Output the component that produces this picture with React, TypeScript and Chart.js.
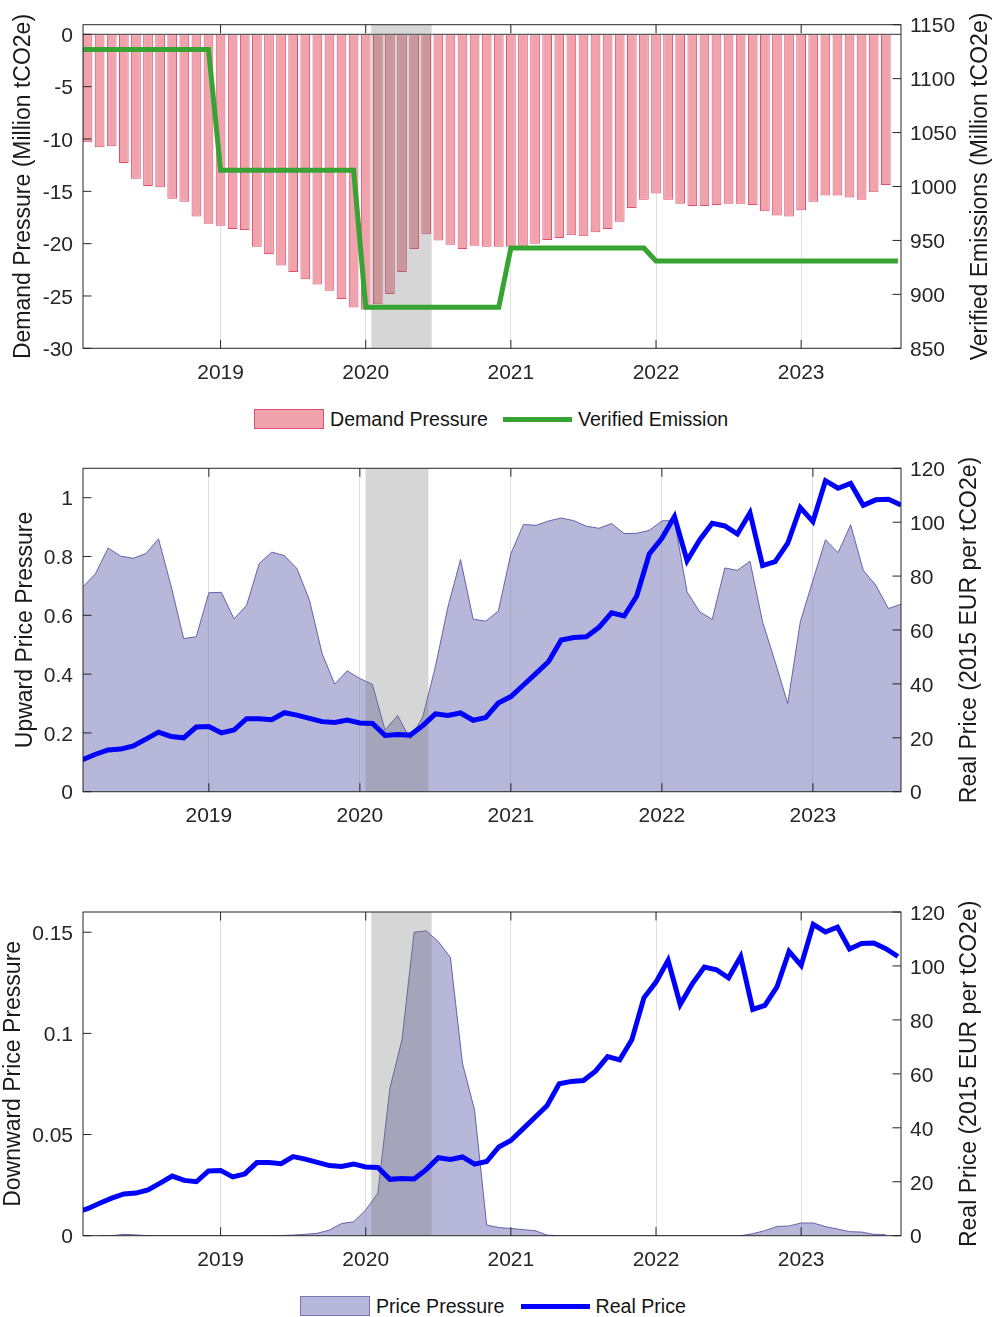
import React, { useEffect, useRef } from 'react';
import { Chart, registerables } from 'chart.js';

Chart.register(...registerables);

// ---------------- data ----------------
const yearTicks = [2019, 2020, 2021, 2022, 2023];

// Demand pressure (Million tCO2e), monthly from 2018-02 to 2023-08
const demandStart = '2018-02';
const demandPressure = [
  -10.3, -10.8, -10.7, -12.3, -13.8, -14.5, -14.6, -15.7, -16.0, -17.4, -18.1,
  -18.3, -18.6, -18.7, -20.3, -21.0, -22.1, -22.7, -23.4, -23.9, -24.5, -25.3, -26.1,
  -26.3, -25.8, -24.8, -22.7, -20.5, -19.1, -19.7, -20.1, -20.5, -20.2, -20.3, -20.3,
  -20.3, -20.2, -20.0, -19.65, -19.45, -19.2, -19.3, -18.9, -18.6, -17.9, -16.6, -15.8,
  -15.2, -15.8, -16.2, -16.4, -16.4, -16.3, -16.2, -16.2, -16.3, -16.9, -17.3, -17.4,
  -16.8, -16.0, -15.4, -15.4, -15.6, -15.8, -15.1, -14.4,
];

// Verified emissions (Million tCO2e), one level per year, drawn monthly 2018-01 .. 2023-09
const emissionYears = [2018, 2019, 2020, 2021, 2022, 2023];
const verifiedEmissions = [1127, 1015, 888, 943, 931, 931];
const emissionStart = '2018-01';
const emissionEnd = '2023-09';

// Real price (2015 EUR per tCO2e), monthly from 2018-01 to 2023-09
const priceStart = '2018-01';
const realPrice = [
  8.6, 10.0, 12.0, 13.9, 15.5, 15.8, 17.0, 19.5, 22.1, 20.5, 20.0, 24.0,
  24.2, 21.8, 22.9, 27.1, 27.1, 26.7, 29.3, 28.4, 27.2, 26.0, 25.7, 26.6,
  25.5, 25.3, 20.9, 21.2, 21.0, 24.5, 28.9, 28.3, 29.2, 26.5, 27.5, 32.9,
  35.3, 39.6, 43.9, 48.3, 56.3, 57.2, 57.5, 61.0, 66.4, 65.2, 72.6, 88.2,
  94.0, 102.1, 85.7, 93.4, 99.6, 98.6, 95.6, 103.5, 83.9, 85.4, 92.2, 105.4,
  100.2, 115.4, 112.6, 114.4, 106.3, 108.3, 108.5, 106.4, 103.5,
];

// Price pressures, monthly from 2018-03 to 2023-08
const pressureStart = '2018-03';
const upwardPressure = [
  0.697, 0.742, 0.829, 0.801, 0.794, 0.81, 0.86, 0.70, 0.521, 0.527,
  0.677, 0.678, 0.588, 0.634, 0.776, 0.815, 0.803, 0.759, 0.651, 0.47, 0.366, 0.411,
  0.385, 0.365, 0.21, 0.259, 0.179, 0.255, 0.425, 0.629, 0.79, 0.587, 0.58, 0.614,
  0.81, 0.909, 0.906, 0.921, 0.931, 0.922, 0.903, 0.896, 0.912, 0.878, 0.879, 0.889,
  0.921, 0.923, 0.68, 0.612, 0.586, 0.761, 0.753, 0.784, 0.578, 0.442, 0.3, 0.578,
  0.719, 0.857, 0.813, 0.908, 0.753, 0.702, 0.623, 0.638,
];
const downwardPressure = [
  0, 0, 0.0007, 0.0004, 0, 0, 0, 0, 0, 0,
  0, 0, 0, 0, 0, 0.0001, 0.0003, 0.0007, 0.0012, 0.0028, 0.006, 0.0069,
  0.0127, 0.021, 0.073, 0.097, 0.15, 0.1507, 0.1454, 0.1375, 0.0852, 0.062, 0.0053, 0.004,
  0.0036, 0.003, 0.0025, 0.0003, 0, 0, 0, 0, 0, 0, 0, 0,
  0, 0, 0, 0, 0, 0, 0, 0, 0.001, 0.0025, 0.0046, 0.0048,
  0.0063, 0.0063, 0.0045, 0.0033, 0.002, 0.0018, 0.0007, 0.0005,
];

// COVID window (fractional years: 2020-01-15 .. 2020-06-15)
const shadeWindow = [2020.038, 2020.454];

const demandTicks = [-30, -25, -20, -15, -10, -5, 0];
const emissionTicks = [850, 900, 950, 1000, 1050, 1100, 1150];
const upwardTicks = [0, 0.2, 0.4, 0.6, 0.8, 1];
const downwardTicks = [0, 0.05, 0.1, 0.15];
const priceTicks = [0, 20, 40, 60, 80, 100, 120];

// ---------------- styles ----------------
const FONT = '"Liberation Sans", Arial, Helvetica, sans-serif';
const TEXT = 'rgb(38,38,38)';
const BAR_FILL = '#F0A2AD';
const BAR_EDGE = '#E0506C';
const GREEN = '#36A332';
const BLUE = '#0000FF';
const AREA_FILL = 'rgba(112,112,180,0.5)';
const AREA_EDGE = 'rgba(80,80,160,0.85)';
const SHADE = 'rgba(120,120,120,0.3)';

// ---------------- helpers ----------------
function monthX(start: string, i: number): number {
  const [y, m] = start.split('-').map(Number);
  const t = y * 12 + (m - 1) + i;
  return Math.floor(t / 12) + (t % 12) / 12;
}
function monthCount(start: string, end: string): number {
  const [y1, m1] = start.split('-').map(Number);
  const [y2, m2] = end.split('-').map(Number);
  return y2 * 12 + m2 - (y1 * 12 + m1) + 1;
}
const series = (start: string, vals: number[]) => vals.map((v, i) => ({ x: monthX(start, i), y: v }));
const emissionPoints = Array.from({ length: monthCount(emissionStart, emissionEnd) }, (_, i) => {
  const x = monthX(emissionStart, i);
  return { x, y: verifiedEmissions[emissionYears.indexOf(Math.floor(x + 1e-9))] };
});
const fmt = (v: number) => String(Math.round(v * 1000) / 1000);

const framePlugin: any = {
  id: 'frame',
  afterDatasetDraw(chart: any, args: any, opts: any) {
    if (!opts || opts.shadeAfter !== args.index) return;
    const { ctx, chartArea: a, scales } = chart;
    ctx.save();
    ctx.beginPath();
    ctx.rect(a.left, a.top, a.right - a.left, a.bottom - a.top);
    ctx.clip();
    if (opts.zeroLine) {
      const y0 = scales.y.getPixelForValue(0);
      ctx.strokeStyle = 'rgb(90,90,90)';
      ctx.lineWidth = 1.2;
      ctx.beginPath();
      ctx.moveTo(a.left, y0);
      ctx.lineTo(a.right, y0);
      ctx.stroke();
    }
    const x1 = scales.x.getPixelForValue(shadeWindow[0]);
    const x2 = scales.x.getPixelForValue(shadeWindow[1]);
    ctx.fillStyle = SHADE;
    ctx.fillRect(x1, a.top, x2 - x1, a.bottom - a.top);
    ctx.restore();
  },
  afterDraw(chart: any, _args: any, opts: any) {
    const { ctx, chartArea: a, scales } = chart;
    const L = 8.5;
    ctx.save();
    ctx.strokeStyle = TEXT;
    ctx.lineWidth = 1;
    ctx.beginPath();
    for (const t of scales.x.ticks) {
      const px = scales.x.getPixelForValue(t.value);
      ctx.moveTo(px, a.bottom);
      ctx.lineTo(px, a.bottom - L);
      ctx.moveTo(px, a.top);
      ctx.lineTo(px, a.top + L);
    }
    for (const t of scales.y.ticks) {
      const py = scales.y.getPixelForValue(t.value);
      ctx.moveTo(a.left, py);
      ctx.lineTo(a.left + L, py);
    }
    for (const t of scales.y2.ticks) {
      const py = scales.y2.getPixelForValue(t.value);
      ctx.moveTo(a.right, py);
      ctx.lineTo(a.right - L, py);
    }
    ctx.stroke();
    ctx.strokeRect(a.left, a.top, a.right - a.left, a.bottom - a.top);

    ctx.fillStyle = 'rgb(26,26,26)';
    ctx.font = `23px ${FONT}`;
    ctx.textAlign = 'center';
    ctx.textBaseline = 'middle';
    const cy = (a.top + a.bottom) / 2;
    for (const [text, x] of [[opts.leftTitle, opts.leftTitleX], [opts.rightTitle, opts.rightTitleX]]) {
      ctx.save();
      ctx.translate(x, cy);
      ctx.rotate(-Math.PI / 2);
      ctx.fillText(text, 0, 0);
      ctx.restore();
    }
    ctx.restore();
  },
};

function xScale(min: number, max: number, height: number): any {
  return {
    type: 'linear',
    min,
    max,
    offset: false,
    afterBuildTicks: (s: any) => { s.ticks = yearTicks.map((v) => ({ value: v })); },
    afterFit: (s: any) => { s.height = height; },
    grid: { display: true, offset: false, color: 'rgba(38,38,38,0.14)', lineWidth: 1, drawTicks: false },
    border: { display: false },
    ticks: {
      autoSkip: false, maxRotation: 0, minRotation: 0, padding: 12, color: TEXT,
      font: { family: FONT, size: 21 }, callback: (v: number) => String(v),
    },
  };
}
function yScale(position: string, min: number, max: number, ticks: number[], width: number): any {
  return {
    type: 'linear',
    position,
    min,
    max,
    afterBuildTicks: (s: any) => { s.ticks = ticks.map((v) => ({ value: v })); },
    afterFit: (s: any) => { s.width = width; },
    grid: { display: false, drawTicks: false },
    border: { display: false },
    ticks: {
      padding: position === 'left' ? 10 : 9, labelOffset: 2, color: TEXT,
      font: { family: FONT, size: 21 }, callback: (v: number) => fmt(v),
    },
  };
}

const baseOptions = (padTop: number, scales: any, frame: any): any => ({
  responsive: false,
  animation: false,
  events: [],
  layout: { padding: { top: padTop, left: 0, right: 0, bottom: 0 } },
  plugins: { legend: { display: false }, tooltip: { enabled: false }, frame },
  scales,
});

function config1(): any {
  return {
    type: 'bar',
    data: {
      datasets: [
        {
          type: 'bar', label: 'Demand Pressure', data: series(demandStart, demandPressure), yAxisID: 'y',
          backgroundColor: BAR_FILL, borderColor: BAR_EDGE, borderWidth: 1, borderSkipped: false,
          barPercentage: 1, categoryPercentage: 0.8, order: 2,
        },
        {
          type: 'line', label: 'Verified Emission', data: emissionPoints, yAxisID: 'y2',
          borderColor: GREEN, borderWidth: 5, pointRadius: 0, tension: 0, fill: false, clip: 0, order: 1,
        },
      ],
    },
    options: baseOptions(
      24.7,
      {
        x: xScale(2018.052, 2023.688, 51.7),
        y: yScale('left', -30, 0.92, demandTicks, 83),
        y2: yScale('right', 850, 1150, emissionTicks, 94),
      },
      {
        shadeAfter: 0, zeroLine: true,
        leftTitle: 'Demand Pressure (Million tCO2e)', leftTitleX: 24,
        rightTitle: 'Verified Emissions (Million tCO2e)', rightTitleX: 981,
      },
    ),
    plugins: [framePlugin],
  };
}

function configPressure(values: number[], yMax: number, yTicks: number[], xmin: number, xmax: number,
  padTop: number, xH: number, leftTitle: string, leftX: number, rightX: number): any {
  return {
    type: 'line',
    data: {
      datasets: [
        {
          label: 'Price Pressure', data: series(pressureStart, values), yAxisID: 'y',
          backgroundColor: AREA_FILL, borderColor: AREA_EDGE, borderWidth: 1, pointRadius: 0,
          tension: 0, fill: 'origin', clip: 0, order: 2,
        },
        {
          label: 'Real Price', data: series(priceStart, realPrice), yAxisID: 'y2',
          borderColor: BLUE, borderWidth: 5, pointRadius: 0, tension: 0, fill: false, clip: 0, order: 1,
        },
      ],
    },
    options: baseOptions(
      padTop,
      {
        x: xScale(xmin, xmax, xH),
        y: yScale('left', 0, yMax, yTicks, 83),
        y2: yScale('right', 0, 120, priceTicks, 94),
      },
      {
        shadeAfter: 0, zeroLine: false,
        leftTitle, leftTitleX: leftX,
        rightTitle: 'Real Price (2015 EUR per tCO2e)', rightTitleX: rightX,
      },
    ),
    plugins: [framePlugin],
  };
}

function Panel({ top, height, make }: { top: number; height: number; make: () => any }) {
  const ref = useRef<HTMLCanvasElement | null>(null);
  useEffect(() => {
    if (!ref.current) return;
    const chart = new Chart(ref.current, make());
    return () => chart.destroy();
  }, []);
  return (
    <div style={{ position: 'absolute', left: 0, top, width: 995, height }}>
      <canvas ref={ref} width={995} height={height} style={{ width: 995, height, display: 'block' }} />
    </div>
  );
}

const legendText: React.CSSProperties = { marginLeft: 6, lineHeight: '20px' };

function Legend({ left, top, patch, line, patchLabel, lineLabel, gap }: any) {
  return (
    <div style={{
      position: 'absolute', left, top, height: 20, display: 'flex', alignItems: 'center',
      font: `19.6px ${FONT}`, color: 'rgb(20,20,20)', whiteSpace: 'nowrap',
    }}>
      <span style={{ width: 70, height: 20, boxSizing: 'border-box', background: patch[0], border: `1px solid ${patch[1]}` }} />
      <span style={legendText}>{patchLabel}</span>
      <span style={{ marginLeft: gap, width: 69, height: 5, background: line }} />
      <span style={legendText}>{lineLabel}</span>
    </div>
  );
}

export default function App() {
  return (
    <div style={{ position: 'absolute', left: 0, top: 0, width: 995, height: 1317, background: '#fff', overflow: 'hidden' }}>
      <Panel top={0} height={400} make={config1} />
      <Legend left={254} top={409} patch={[BAR_FILL, BAR_EDGE]} line={GREEN}
        patchLabel="Demand Pressure" lineLabel="Verified Emission" gap={15} />
      <Panel top={440} height={400} make={() => configPressure(upwardPressure, 1.1, upwardTicks,
        2018 + 2 / 12, 2023 + 7 / 12, 28.3, 48.3, 'Upward Price Pressure', 26, 970)} />
      <Panel top={885} height={400} make={() => configPressure(downwardPressure, 0.16, downwardTicks,
        2018.052, 2023.688, 27, 49.3, 'Downward Price Pressure', 14, 970)} />
      <Legend left={300} top={1296} patch={[AREA_FILL, 'rgba(90,90,160,0.7)']} line={BLUE}
        patchLabel="Price Pressure" lineLabel="Real Price" gap={16} />
    </div>
  );
}
